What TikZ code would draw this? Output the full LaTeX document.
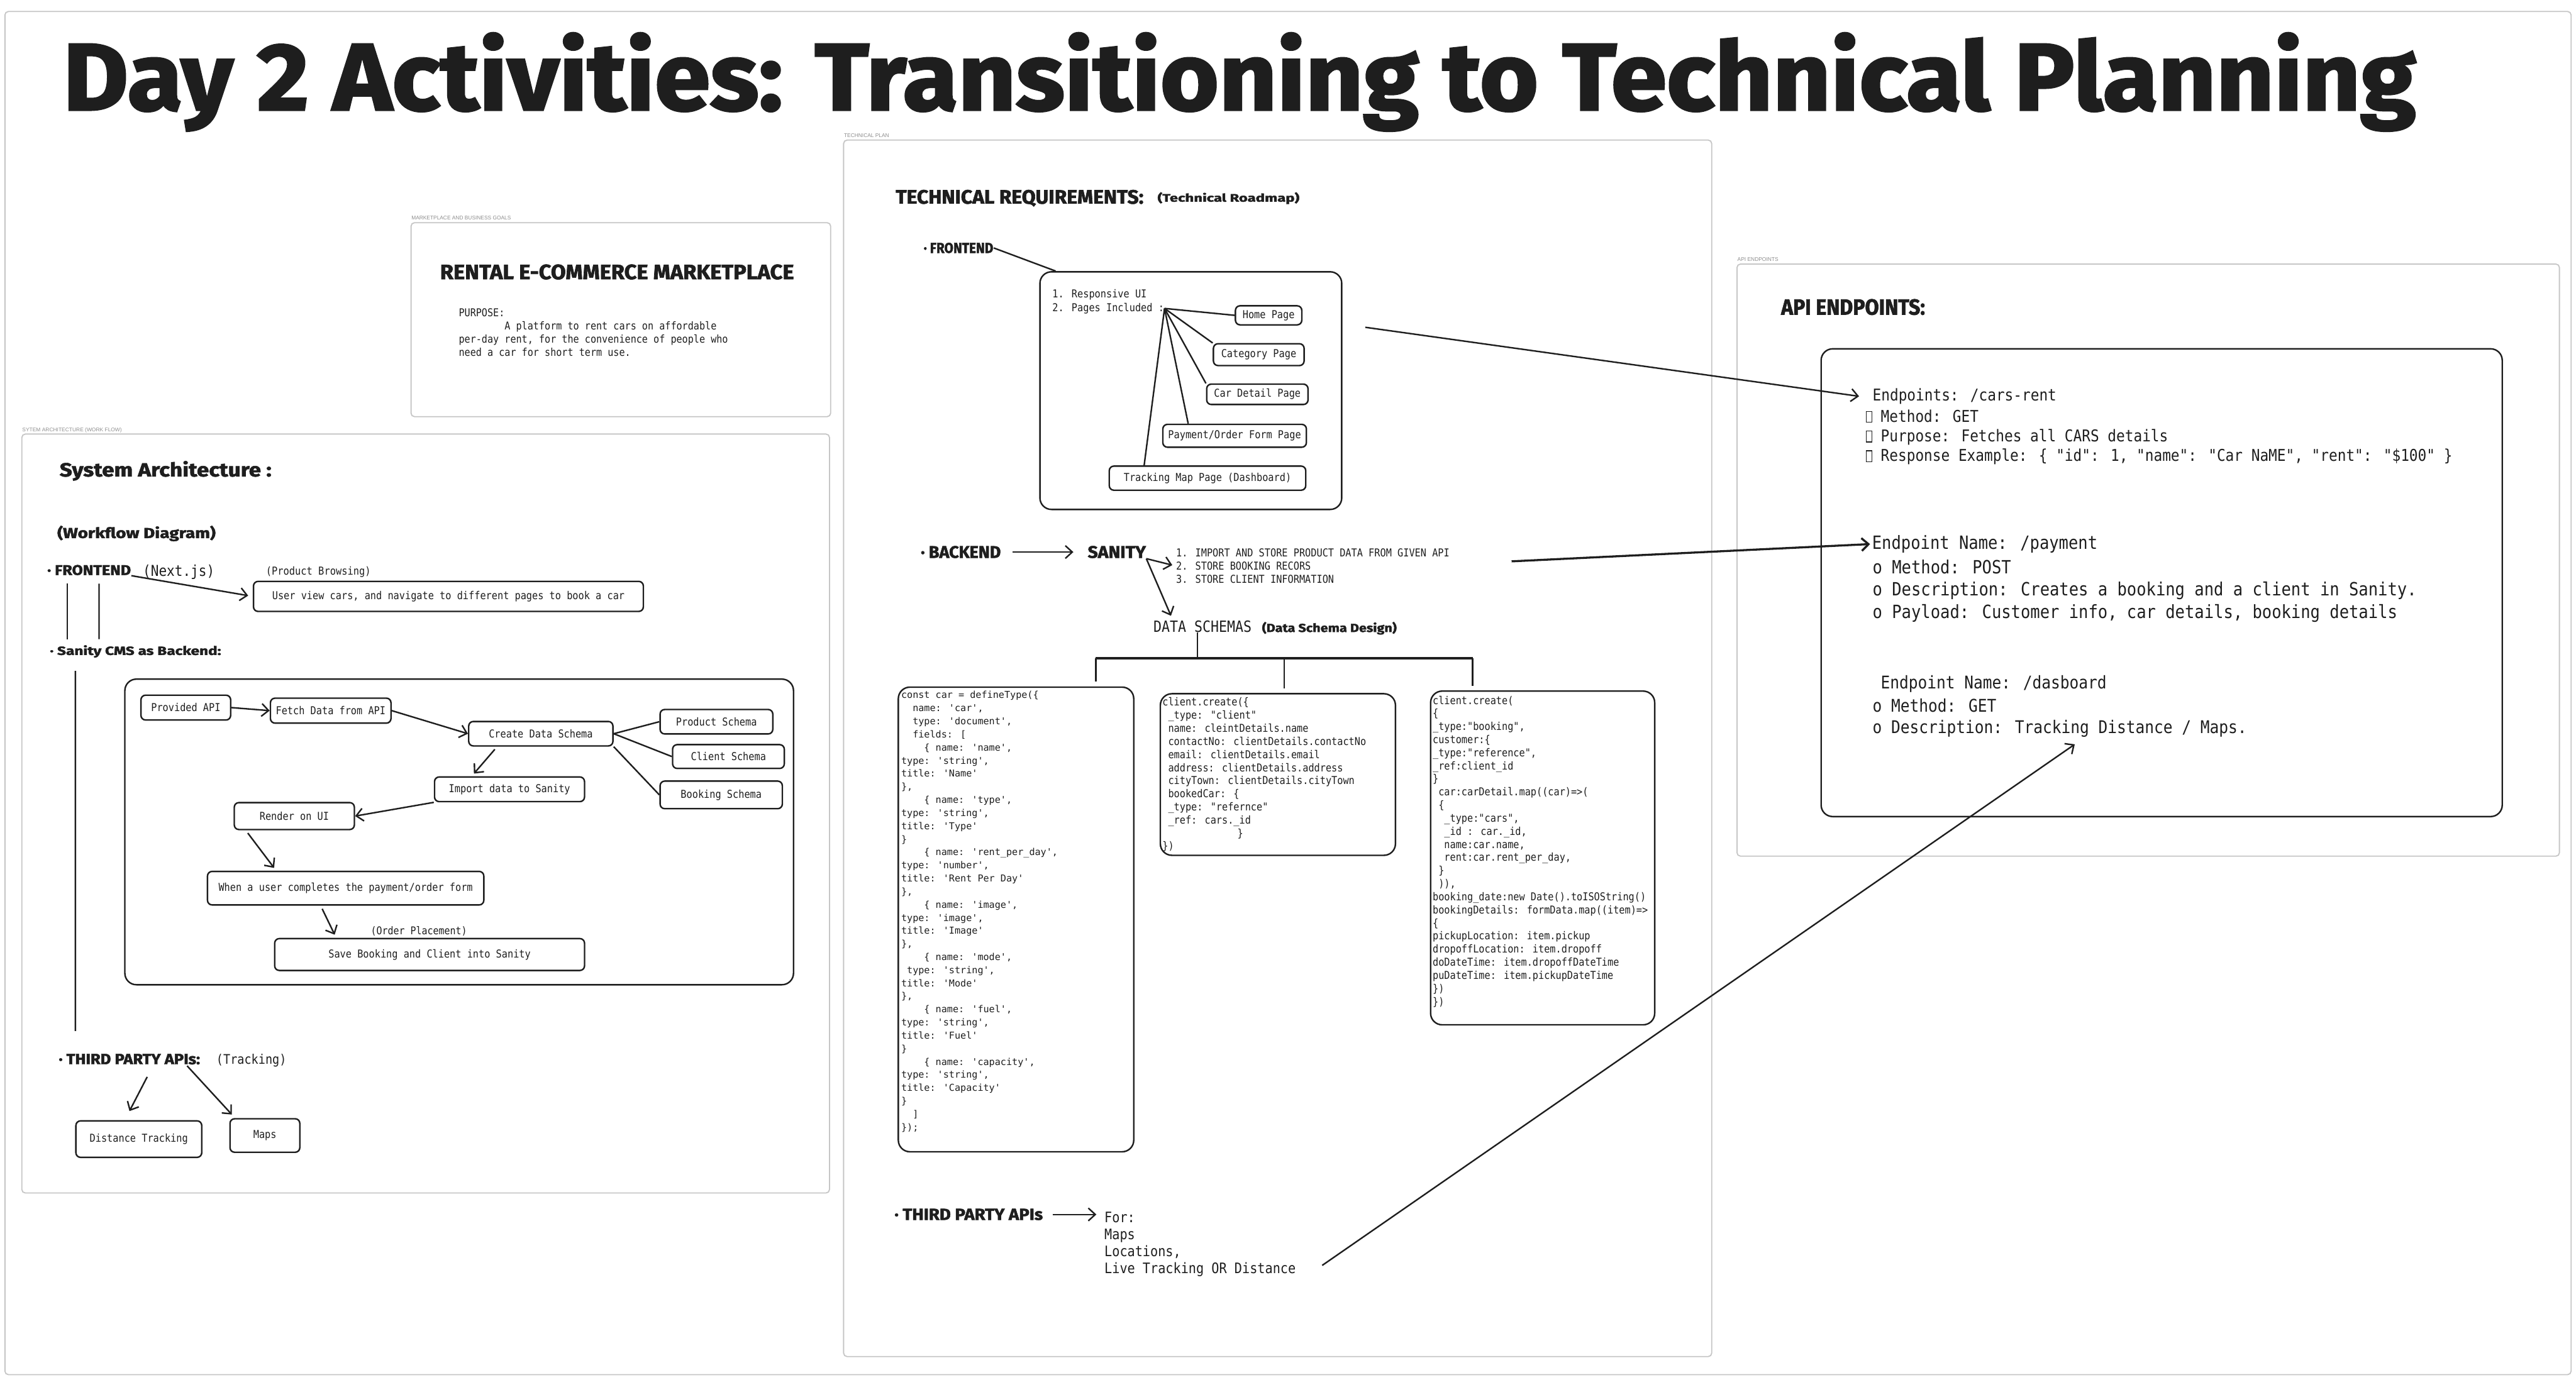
\documentclass[tikz,border=0pt]{standalone}
\usepackage{fontspec}
\usepackage{graphicx}
\usepackage{xcolor}
\usepackage{tikz}
\usetikzlibrary{arrows.meta,calc}
\newfontfamily\headfont{Fira Sans}[BoldFeatures={FakeBold=2}]
\newfontfamily\handfont{DejaVu Sans Mono}[FakeStretch=0.88]
\newfontfamily\codefont{DejaVu Sans Mono}
\newfontfamily\labelfont{Liberation Sans}
\definecolor{ink}{HTML}{1E1E1E}
\definecolor{framegray}{HTML}{C6C6C6}
\definecolor{labelgray}{HTML}{8E8E8E}
\newdimen\upx \upx=0.025cm
\newcommand\handsz[2]{\handfont\fontsize{#1}{#2}\selectfont}
\newcommand\heavy[3]{\resizebox{#1\upx}{#2\upx}{\headfont\bfseries #3}}
\newcommand\flabel[2]{\resizebox{#1\upx}{2.3\upx}{\labelfont #2}}
\newcommand\ind[1]{\hspace*{#1\fontcharwd\font`\x}}
\newcommand\tofu{{\fboxsep=0pt\fboxrule=0.35pt\fbox{\rule{0pt}{0.62em}\hspace{0.3em}}}}

\begin{document}
\begin{tikzpicture}[x=0.025cm, y=-0.025cm, frame/.style={draw=framegray, line width=0.5pt, rounded corners=1.5pt}, flbl/.style={anchor=base west, inner sep=0pt, text=labelgray}, head/.style={anchor=base west, inner sep=0pt, text=ink}, txt/.style={inner sep=0pt, align=left, text=ink, font=\handsz{4.72}{5.67}}, pbox/.style={draw=ink, line width=0.65pt, rounded corners=2pt, inner sep=0pt, text=ink, font=\handsz{4.72}{5.67}}, bigbox/.style={draw=ink, line width=0.65pt, rounded corners=5pt, inner sep=0pt}, sz/.style 2 args={minimum width=#1*\upx, minimum height=#2*\upx}, arr/.style={draw=ink, line width=0.65pt, -{Straight Barb[length=3pt,width=5.5pt]}}, link/.style={draw=ink, line width=0.65pt}, gap/.style={shorten <=1.5pt, shorten >=1.5pt}]
\useasboundingbox (0,0) rectangle (1568,840);
\draw[frame] (3,7) rectangle (1565,837);
\node[head] (title) at (38,67) {\heavy{1432}{47}{Day 2 Activities: Transitioning to Technical Planning}};

\draw[frame] (250.2,135.6) rectangle (505.6,253.7);
\draw[frame] (13.3,264.3) rectangle (504.9,726.4);
\draw[frame] (513.5,85.3) rectangle (1041.9,826);
\draw[frame] (1057.3,160.8) rectangle (1557.9,521.3);
\node[flbl] (lblmkt) at (250.2,133.7) {\flabel{60.5}{MARKETPLACE AND BUSINESS GOALS}};
\node[flbl] (lblsys) at (13.3,262.9) {\flabel{60.6}{SYTEM ARCHITECTURE (WORK FLOW)}};
\node[flbl] (lbltech) at (513.5,83.8) {\flabel{27.4}{TECHNICAL PLAN}};
\node[flbl] (lblapi) at (1057.3,159.1) {\flabel{24.9}{API ENDPOINTS}};

\node[head] (rental) at (267.6,170) {\heavy{215.4}{9}{RENTAL E-COMMERCE MARKETPLACE}};
\node[txt, anchor=north west, font=\handsz{4.68}{5.67}] (purpose) at (279,187.6) {PURPOSE:\\\ind{8}A platform to rent cars on affordable\\per-day rent, for the convenience of people who\\need a car for short term use.};

\node[head] (sysarch) at (36,290.1) {\heavy{129}{9.4}{System Architecture :}};
\node[head] (wfd) at (34.6,327.6) {\heavy{96.4}{7.5}{(Workflow Diagram)}};
\node[head] (fe1) at (28.5,350.1) {\heavy{50.9}{6.1}{· FRONTEND}};
\node[txt, anchor=west, font=\handsz{6.51}{7.8}] (nextjs) at (86.7,348.5) {(Next.js)};
\node[txt, anchor=west, font=\handsz{4.76}{5.7}] (browse) at (161.6,348.3) {(Product Browsing)};
\node[pbox, sz={237.3}{18.3}] (uv) at (272.95,363.15) {User view cars, and navigate to different pages to book a car};
\node[head] (cmsh) at (30.1,398.8) {\heavy{104.2}{5.9}{· Sanity CMS as Backend:}};
\node[bigbox, sz={407}{186.1}] (cmsbox) at (279.5,506.55) {};
\node[pbox, sz={54.6}{15.1}] (prov) at (113.1,430.85) {Provided API};
\node[pbox, sz={73.4}{15.2}] (fetch) at (201.3,432.7) {Fetch Data from API};
\node[pbox, sz={87.8}{14.9}] (create) at (329.2,446.75) {Create Data Schema};
\node[pbox, sz={68.6}{14.9}] (prod) at (436.1,439.45) {Product Schema};
\node[pbox, sz={68}{14.5}] (client) at (443.4,460.65) {Client Schema};
\node[pbox, sz={74.4}{16.8}] (booking) at (439,484) {Booking Schema};
\node[pbox, sz={91.3}{15}] (import) at (310.15,480.6) {Import data to Sanity};
\node[pbox, sz={73.1}{16.4}] (render) at (179.15,496.9) {Render on UI};
\node[pbox, sz={168.2}{20.4}] (when) at (210.4,540.8) {When a user completes the payment/order form};
\node[txt, font=\handsz{4.62}{5.6}] (orderpl) at (255,566.8) {(Order Placement)};
\node[pbox, sz={188.6}{19.4}] (save) at (261.5,581.2) {Save Booking and Client into Sanity};
\node[head] (tp1) at (35.5,648) {\heavy{86}{6.3}{· THIRD PARTY APIs:}};
\node[txt, anchor=west, font=\handsz{5.73}{6.9}] (tracking) at (131.4,645.9) {(Tracking)};
\node[pbox, sz={76.6}{22.2}] (dist) at (84.5,693.6) {Distance Tracking};
\node[pbox, sz={42.5}{20.4}] (maps) at (161.25,691.4) {Maps};

\node[head] (techreq) at (545,124) {\heavy{150.8}{8.4}{TECHNICAL REQUIREMENTS:}};
\node[head] (roadmap) at (704.3,122.8) {\heavy{86.4}{5.7}{(Technical Roadmap)}};
\node[head] (fe2) at (562,154) {\heavy{42.3}{6.2}{· FRONTEND}};
\node[bigbox, sz={183.7}{144.7}] (febox) at (724.85,237.85) {};
\node[txt, anchor=west] (fel1) at (640.3,179.6) {1. Responsive UI};
\node[txt, anchor=west] (fel2) at (640.3,187.8) {2. Pages Included :};
\node[pbox, sz={40.4}{11.6}] (home) at (772.2,192) {Home Page};
\node[pbox, sz={55.2}{13.3}] (cat) at (766.2,215.95) {Category Page};
\node[pbox, sz={61.7}{12.4}] (card) at (765.35,240.1) {Car Detail Page};
\node[pbox, sz={87.4}{13.9}] (pay) at (751.5,265.35) {Payment/Order Form Page};
\node[pbox, sz={119.6}{14.7}] (track) at (735,291.15) {Tracking Map Page (Dashboard)};

\node[head] (bk) at (560.2,339.7) {\heavy{48.7}{7.3}{· BACKEND}};
\node[head] (san) at (661.8,339.7) {\heavy{35.4}{7.3}{SANITY}};
\node[txt, anchor=north west, font=\handsz{4.72}{5.7}] (blist) at (715.6,333.8) {1. IMPORT AND STORE PRODUCT DATA FROM GIVEN API\\2. STORE BOOKING RECORS\\3. STORE CLIENT INFORMATION};
\node[txt, anchor=base west, font=\handsz{6.69}{8}] (dsch) at (701.8,384.8) {DATA SCHEMAS};
\node[head] (dsd) at (767.9,384.8) {\heavy{82}{6.1}{(Data Schema Design)}};

\node[bigbox, sz={143.3}{282.9}] (sch1) at (618.45,559.85) {};
\node[txt, anchor=north west, font=\codefont\fontsize{4.12}{5.67}\selectfont] (sch1txt) at (548.3,420.6) {const car = defineType(\{\\
\ind{2}name: 'car',\\
\ind{2}type: 'document',\\
\ind{2}fields: [\\
\ind{4}\{ name: 'name',\\
type: 'string',\\
title: 'Name'\\
\},\\
\ind{4}\{ name: 'type',\\
type: 'string',\\
title: 'Type'\\
\}\\
\ind{4}\{ name: 'rent\_per\_day',\\
type: 'number',\\
title: 'Rent Per Day'\\
\},\\
\ind{4}\{ name: 'image',\\
type: 'image',\\
title: 'Image'\\
\},\\
\ind{4}\{ name: 'mode',\\
\ind{1}type: 'string',\\
title: 'Mode'\\
\},\\
\ind{4}\{ name: 'fuel',\\
type: 'string',\\
title: 'Fuel'\\
\}\\
\ind{4}\{ name: 'capacity',\\
type: 'string',\\
title: 'Capacity'\\
\}\\
\ind{2}]\\
\});};
\node[bigbox, sz={143.1}{98.4}] (sch2) at (777.85,471.6) {};
\node[txt, anchor=north west, font=\handsz{4.71}{5.67}] (sch2txt) at (707.3,424.5) {client.create(\{\\
\ind{1}\_type: "client"\\
\ind{1}name: cleintDetails.name\\
\ind{1}contactNo: clientDetails.contactNo\\
\ind{1}email: clientDetails.email\\
\ind{1}address: clientDetails.address\\
\ind{1}cityTown: clientDetails.cityTown\\
\ind{1}bookedCar: \{\\
\ind{1}\_type: "refernce"\\
\ind{1}\_ref: cars.\_id\\
\ind{13}\}\\
\})};
\node[bigbox, sz={136.4}{203.2}] (sch3) at (939,522.4) {};
\node[txt, anchor=north west, font=\handsz{4.71}{5.67}] (sch3txt) at (871.8,423.4) {client.create(\\
\{\\
\_type:"booking",\\
customer:\{\\
\_type:"reference",\\
\_ref:client\_id\\
\}\\
\ind{1}car:carDetail.map((car)=>(\\
\ind{1}\{\\
\ind{2}\_type:"cars",\\
\ind{2}\_id : car.\_id,\\
\ind{2}name:car.name,\\
\ind{2}rent:car.rent\_per\_day,\\
\ind{1}\}\\
\ind{1})),\\
booking\_date:new Date().toISOString()\\
bookingDetails: formData.map((item)=>\\
\{\\
pickupLocation: item.pickup\\
dropoffLocation: item.dropoff\\
doDateTime: item.dropoffDateTime\\
puDateTime: item.pickupDateTime\\
\})\\
\})};

\node[head] (tp2) at (544.2,742.8) {\heavy{90.3}{6.8}{· THIRD PARTY APIs}};
\node[txt, anchor=north west, font=\handsz{6.25}{7.37}] (forlist) at (672,737.6) {For:\\Maps\\Locations,\\Live Tracking OR Distance};

\node[head] (apih) at (1083.9,191.6) {\heavy{87.6}{9.5}{API ENDPOINTS:}};
\node[bigbox, sz={414.6}{284.8}] (apibox) at (1315.8,354.8) {};
\node[txt, anchor=west, font=\handsz{7.04}{8.5}] (ep1) at (1139.6,241.3) {Endpoints: /cars-rent};
\node[txt, anchor=north west, font=\handsz{7.04}{8.5}] (ep1b) at (1135.4,249.1) {\tofu{} Method: GET\\\tofu{} Purpose: Fetches all CARS details\\\tofu{} Response Example: \{ "id": 1, "name": "Car NaME", "rent": "\$100" \}};
\node[txt, anchor=west, font=\handsz{7.89}{9.64}] (ep2) at (1139.3,331.3) {Endpoint Name: /payment};
\node[txt, anchor=north west, font=\handsz{7.89}{9.64}] (ep2b) at (1139.6,340.5) {o Method: POST\\o Description: Creates a booking and a client in Sanity.\\o Payload: Customer info, car details, booking details};
\node[txt, anchor=west, font=\handsz{7.58}{9.21}] (ep3) at (1144.6,416.6) {Endpoint Name: /dasboard};
\node[txt, anchor=north west, font=\handsz{7.58}{9.21}] (ep3b) at (1139.6,425.3) {o Method: GET\\o Description: Tracking Distance / Maps.};

\coordinate (a1s) at (831.1,199.3);
\coordinate (a2s) at (920.1,341.8);
\coordinate (a3s) at (804.8,770.5);
\coordinate (bus) at (728.8,400.8);
\coordinate (busL) at (667,400.8);
\coordinate (busM) at (781.7,400.8);
\coordinate (busR) at (896.4,400.8);

\draw[arr, shorten >=2pt] (fe1.south east) -- (uv.west);
\draw[link] ([xshift=12.5*\upx,yshift=-4.9*\upx]fe1.south west) -- ([xshift=10.9*\upx,yshift=3.4*\upx]cmsh.north west);
\draw[link] ([xshift=31.8*\upx,yshift=-4.9*\upx]fe1.south west) -- ([xshift=30.2*\upx,yshift=3.4*\upx]cmsh.north west);
\draw[link] ([xshift=15.8*\upx,yshift=-9.7*\upx]cmsh.base west) -- ([xshift=10.4*\upx,yshift=13.7*\upx]tp1.north west);
\draw[arr] (prov.east) -- (fetch.west);
\draw[arr] (fetch.east) -- (create.west);
\draw[link] (create.east) -- (prod.west);
\draw[link] (create.east) -- (client.west);
\draw[link] (create.south east) -- (booking.west);
\draw[arr, gap] ($(create.south west)!0.2!(create.south east)$) -- ($(import.north west)!0.25!(import.north east)$);
\draw[arr] (import.south west) -- (render.east);
\draw[arr, gap] ($(render.south west)!0.1!(render.south east)$) -- ($(when.north west)!0.25!(when.north east)$);
\draw[arr, gap] ($(when.south west)!0.41!(when.south east)$) -- ($(save.north west)!0.2!(save.north east)$);
\draw[arr] ([xshift=54.1*\upx,yshift=-7.7*\upx]tp1.base west) -- ([xshift=-5.7*\upx,yshift=5.5*\upx]dist.north);
\draw[arr] ([xshift=78.4*\upx,yshift=-1*\upx]tp1.base west) -- ([xshift=1.6*\upx,yshift=2.1*\upx]maps.north west);

\draw[link] (fe2.east) -- ([xshift=10*\upx]febox.north west);
\foreach \pg in {home.west,cat.north west,card.north west}
  \draw[link] (fel2.east) -- (\pg);
\draw[link] (fel2.east) -- ($(pay.north west)!0.18!(pay.north east)$);
\draw[link] (fel2.east) -- ($(track.north west)!0.18!(track.north east)$);
\draw[arr, shorten <=5pt, shorten >=6pt] (bk.east) -- (san.west);
\draw[arr, shorten >=1.5pt] (san.south east) -- (blist.west);
\draw[arr, shorten >=2pt] (san.south east) -- ($(dsch.north west)!0.2!(dsch.north east)$);
\draw[link] (dsch.south -| bus) -- (bus);
\draw[link, line width=0.9pt] (busL) -- (busR);
\foreach \bpt/\sch in {busL/sch1,busM/sch2,busR/sch3}
  \draw[link, shorten >=2pt] (\bpt) -- (\bpt |- \sch.north);
\draw[arr, shorten <=4pt, shorten >=3.3pt] (tp2.east) -- (tp2.east -| forlist.west);

\draw[arr] (a1s) -- ([xshift=-8*\upx]ep1.west);
\draw[arr, line width=0.9pt] (a2s) -- ([xshift=-1*\upx]ep2.west);
\draw[arr] (a3s) -- ($(ep3b.south west)!0.54!(ep3b.south east)+(0,4)$);
\end{tikzpicture}
\end{document}
